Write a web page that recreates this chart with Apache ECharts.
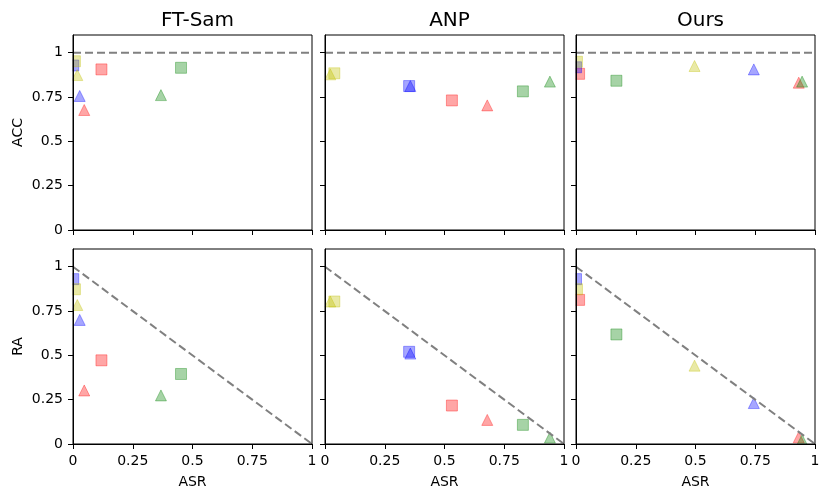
<!DOCTYPE html>
<html>
<head>
<meta charset="utf-8">
<title>ACC / RA vs ASR</title>
<script src="https://cdn.jsdelivr.net/npm/echarts@6/dist/echarts.min.js"></script>
<style>
    html, body { margin: 0; padding: 0; background: #fff; }
    #chart { width: 830px; height: 500px; }
</style>
</head>
<body>
<div id="chart"></div>
<script>
    // methods, one column each
    var methods = ['FT-Sam', 'ANP', 'Ours'];
    var rowNames = ['ACC', 'RA'];
    var tickValues = [0, 0.25, 0.5, 0.75, 1];

    // 8 points per method: red sq, red tri, blue sq, blue tri, green sq, green tri, yellow sq, yellow tri
    var asrFTSam = [0.119, 0.047, 0.001, 0.028, 0.452, 0.368, 0.008, 0.018];
    var accFTSam = [0.906, 0.677, 0.928, 0.756, 0.915, 0.761, 0.952, 0.874];
    var raFTSam  = [0.472, 0.302, 0.930, 0.700, 0.395, 0.274, 0.873, 0.784];

    var asrANP = [0.531, 0.679, 0.352, 0.357, 0.828, 0.941, 0.039, 0.022];
    var accANP = [0.731, 0.703, 0.812, 0.812, 0.782, 0.837, 0.884, 0.878];
    var raANP  = [0.217, 0.136, 0.520, 0.510, 0.108, 0.036, 0.804, 0.804];

    var asrOurs = [0.013, 0.932, 0.000, 0.744, 0.169, 0.946, 0.004, 0.496];
    var accOurs = [0.881, 0.831, 0.918, 0.906, 0.842, 0.837, 0.949, 0.925];
    var raOurs  = [0.813, 0.038, 0.930, 0.231, 0.618, 0.023, 0.873, 0.442];

    // reference lines: ACC = 1, RA = 1 - ASR
    var accRefLine = [[0, 1], [1, 1]];
    var raRefLine = [[0, 1], [1, 0]];

    var asrAll = [asrFTSam, asrANP, asrOurs];
    var yAll = [[accFTSam, accANP, accOurs], [raFTSam, raANP, raOurs]];

    // styles
    var pointColors = ['#ff0000', '#ff0000', '#0000ff', '#0000ff', '#008000', '#008000', '#bfbf00', '#bfbf00'];
    var pointSymbols = ['rect', 'triangle', 'rect', 'triangle', 'rect', 'triangle', 'rect', 'triangle'];
    var gridLefts = [73, 325, 576];
    var gridTops = [35, 249];
    var gridW = 239;
    var gridH = 195;
    var font = 'DejaVu Sans';

    var grids = [], xAxes = [], yAxes = [], series = [], titles = [], masks = [];

    for (var row = 0; row < 2; row++) {
        for (var col = 0; col < 3; col++) {
            var idx = row * 3 + col;
            var gl = gridLefts[col], gt = gridTops[row];
            grids.push({
                left: gl, top: gt, width: gridW, height: gridH, z: 10,
                show: true, borderColor: '#000', borderWidth: 1, backgroundColor: 'transparent'
            });
            xAxes.push({
                type: 'value', gridIndex: idx, min: 0, max: 1, z: 10,
                name: row === 1 ? 'ASR' : '',
                nameLocation: 'middle', nameGap: 31,
                nameTextStyle: {fontFamily: font, fontSize: 14, color: '#000'},
                axisLine: {lineStyle: {color: '#000', width: 1}},
                axisTick: {show: true, length: 5, customValues: tickValues, lineStyle: {color: '#000'}},
                axisLabel: {show: row === 1, customValues: tickValues, fontFamily: font, fontSize: 14, color: '#000', margin: 10},
                splitLine: {show: false}
            });
            yAxes.push({
                type: 'value', gridIndex: idx, min: 0, max: 1.1, z: 10,
                name: col === 0 ? rowNames[row] : '',
                nameLocation: 'middle', nameGap: 48,
                nameTextStyle: {fontFamily: font, fontSize: 14, color: '#000'},
                axisLine: {lineStyle: {color: '#000', width: 1}},
                axisTick: {show: true, length: 5, customValues: tickValues, lineStyle: {color: '#000'}},
                axisLabel: {show: col === 0, customValues: tickValues, fontFamily: font, fontSize: 14, color: '#000', margin: 10},
                splitLine: {show: false}
            });

            // white strips just outside the plot area so markers look clipped like matplotlib
            masks.push({type: 'rect', z: 5, silent: true,
                shape: {x: gl - 7, y: gt - 7, width: 6.5, height: gridH + 14}, style: {fill: '#fff'}});
            masks.push({type: 'rect', z: 5, silent: true,
                shape: {x: gl - 7, y: gt + gridH + 0.5, width: gridW + 14, height: 6.5}, style: {fill: '#fff'}});

            var xs = asrAll[col];
            var ys = yAll[row][col];
            var pts = [];
            for (var k = 0; k < xs.length; k++) {
                pts.push({
                    value: [xs[k], ys[k]],
                    symbol: pointSymbols[k],
                    itemStyle: {color: pointColors[k], borderColor: pointColors[k], borderWidth: 1, opacity: 0.35}
                });
            }
            series.push({
                type: 'scatter', xAxisIndex: idx, yAxisIndex: idx, z: 2,
                symbolSize: 11, data: pts, silent: true
            });
            series.push({
                type: 'line', xAxisIndex: idx, yAxisIndex: idx, z: 3,
                data: row === 0 ? accRefLine : raRefLine,
                showSymbol: false, silent: true,
                lineStyle: {color: '#808080', width: 2, type: [8, 4]}
            });
        }
    }

    for (var c = 0; c < 3; c++) {
        titles.push({
            text: methods[c],
            left: gridLefts[c] + gridW / 2,
            top: 6,
            textAlign: 'center',
            textStyle: {fontFamily: font, fontSize: 20, fontWeight: 'normal', color: '#000'}
        });
    }

    var chart = echarts.init(document.getElementById('chart'), null, {renderer: 'canvas'});
    chart.setOption({
        animation: false,
        backgroundColor: '#fff',
        title: titles,
        grid: grids,
        xAxis: xAxes,
        yAxis: yAxes,
        graphic: masks,
        series: series
    });
</script>
</body>
</html>
